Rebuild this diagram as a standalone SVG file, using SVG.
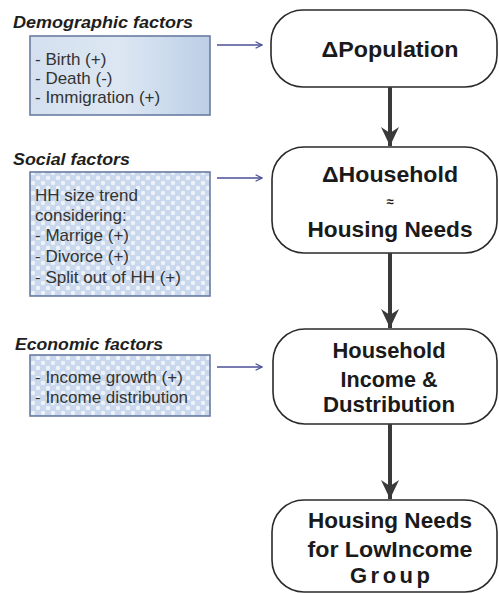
<svg xmlns="http://www.w3.org/2000/svg" width="499" height="593" viewBox="0 0 499 593">
<defs>
<style>
.title{font-family:"Liberation Sans",Arial,sans-serif;font-weight:bold;font-style:italic;font-size:17px;fill:#1e1e1e}
.item{font-family:"Liberation Sans",Arial,sans-serif;font-size:17px;fill:#333}
.node rect{fill:#fff;stroke:#2a2a2a;stroke-width:1.6}
.node text{font-family:"Liberation Sans",Arial,sans-serif;font-weight:bold;font-size:22px;fill:#1a1a1a;text-anchor:middle}
.box{stroke:#6a7ca2;stroke-width:1.6}
.side{stroke:#4b4f98;stroke-width:1.6;fill:none}
.down{stroke:#3a3a3a;stroke-width:4;fill:none}
</style>
<linearGradient id="gDemo" x1="0" y1="0" x2="1" y2="0">
<stop offset="0" stop-color="#d4e0ef"/>
<stop offset="0.5" stop-color="#dde7f3"/>
<stop offset="1" stop-color="#bccfe6"/>
</linearGradient>
<pattern id="dots" width="10" height="10" patternUnits="userSpaceOnUse">
<rect width="10" height="10" fill="#c9d8ec"/>
<circle cx="3" cy="3" r="2.2" fill="#eef3fa"/>
<circle cx="8" cy="8" r="2.2" fill="#eef3fa"/>
</pattern>
<marker id="openHead" viewBox="0 0 10 10" refX="9" refY="5" markerWidth="8" markerHeight="8" markerUnits="userSpaceOnUse" orient="auto">
<path d="M1,1 L9,5 L1,9" fill="none" stroke="#4b4f98" stroke-width="1.6"/>
</marker>
<marker id="bigHead" viewBox="0 0 20 20" refX="19" refY="10" markerWidth="20" markerHeight="20" markerUnits="userSpaceOnUse" orient="auto">
<path d="M0,1 L19,10 L0,19 L6,10 Z" fill="#3a3a3a"/>
</marker>
</defs>
<rect width="499" height="593" fill="#fff"/>

<g id="demographic">
<text class="title" x="13" y="28" textLength="180" lengthAdjust="spacingAndGlyphs">Demographic factors</text>
<rect class="box" x="30" y="36" width="180" height="79" fill="url(#gDemo)"/>
<text class="item" x="35" y="65">- Birth (+)</text>
<text class="item" x="35" y="84">- Death (-)</text>
<text class="item" x="35" y="103">- Immigration (+)</text>
</g>

<g id="social">
<text class="title" x="13" y="165" textLength="117" lengthAdjust="spacingAndGlyphs">Social factors</text>
<rect class="box" x="30" y="172" width="180" height="124" fill="url(#dots)"/>
<text class="item" x="35" y="201">HH size trend</text>
<text class="item" x="35" y="221">considering:</text>
<text class="item" x="35" y="241">- Marrige (+)</text>
<text class="item" x="35" y="262">- Divorce (+)</text>
<text class="item" x="35" y="283">- Split out of HH (+)</text>
</g>

<g id="economic">
<text class="title" x="15" y="350" textLength="148" lengthAdjust="spacingAndGlyphs">Economic factors</text>
<rect class="box" x="30" y="355" width="180" height="61" fill="url(#dots)"/>
<text class="item" x="35" y="383">- Income growth (+)</text>
<text class="item" x="35" y="403">- Income distribution</text>
</g>

<g id="population" class="node">
<rect x="271" y="10" width="226" height="77" rx="32" ry="32"/>
<text x="390" y="57" textLength="137" lengthAdjust="spacingAndGlyphs">ΔPopulation</text>
</g>

<g id="household" class="node">
<rect x="272" y="147" width="225" height="106" rx="32" ry="32"/>
<text x="390" y="182" textLength="136" lengthAdjust="spacingAndGlyphs">ΔHousehold</text>
<text x="390" y="206" style="font-size:13px">≈</text>
<text x="390" y="237" textLength="165" lengthAdjust="spacingAndGlyphs">Housing Needs</text>
</g>

<g id="income" class="node">
<rect x="273" y="329" width="224" height="95" rx="32" ry="32"/>
<text x="389" y="358" textLength="113" lengthAdjust="spacingAndGlyphs">Household</text>
<text x="389" y="387" textLength="97" lengthAdjust="spacingAndGlyphs">Income &amp;</text>
<text x="389" y="412" textLength="132" lengthAdjust="spacingAndGlyphs">Dustribution</text>
</g>

<g id="lowincome" class="node">
<rect x="272" y="500" width="225" height="92" rx="32" ry="32"/>
<text x="390" y="528" textLength="164" lengthAdjust="spacingAndGlyphs">Housing Needs</text>
<text x="390" y="557" textLength="165" lengthAdjust="spacingAndGlyphs">for LowIncome</text>
<text x="390" y="583" textLength="80" lengthAdjust="spacing">Group</text>
</g>

<g id="connectors">
<line class="side" x1="217" y1="45" x2="262" y2="45" marker-end="url(#openHead)"/>
<line class="side" x1="217" y1="178" x2="262" y2="178" marker-end="url(#openHead)"/>
<line class="side" x1="217" y1="367" x2="262" y2="367" marker-end="url(#openHead)"/>
<line class="down" x1="390" y1="87" x2="390" y2="146" marker-end="url(#bigHead)"/>
<line class="down" x1="390" y1="253" x2="390" y2="328" marker-end="url(#bigHead)"/>
<line class="down" x1="390" y1="424" x2="390" y2="499" marker-end="url(#bigHead)"/>
</g>
</svg>
